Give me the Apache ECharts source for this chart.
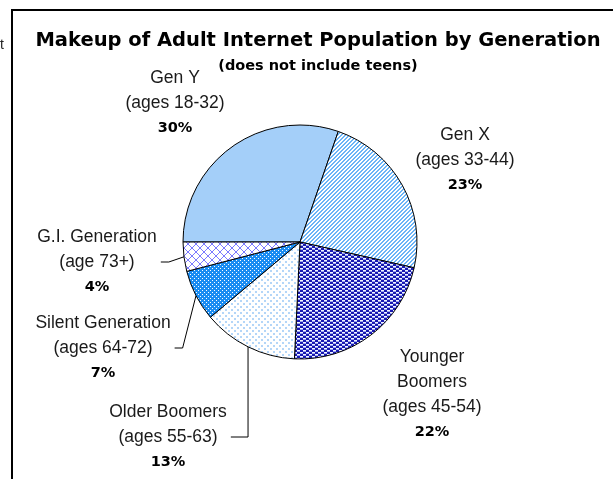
<!DOCTYPE html>
<html>
<head>
<meta charset="utf-8">
<script src="https://cdn.jsdelivr.net/npm/echarts@6/dist/echarts.min.js"></script>
<style>
html,body{margin:0;padding:0;background:#fff;}
#chart{width:613px;height:479px;}
</style>
</head>
<body>
<div id="chart"></div>
<script>
// ---- data ----
const categories = ['Gen Y', 'Gen X', 'Younger Boomers', 'Older Boomers', 'Silent Generation', 'G.I. Generation'];
const labelNames = ['Gen Y', 'Gen X', 'Younger\nBoomers', 'Older Boomers', 'Silent Generation', 'G.I. Generation'];
const ageRanges = ['(ages 18-32)', '(ages 33-44)', '(ages 45-54)', '(ages 55-63)', '(ages 64-72)', '(age 73+)'];
const values = [30, 23, 22, 13, 7, 4];

// ---- layout (label centres, leader style) ----
const labelCenters = [[175, 103], [465, 160], [432, 395], [168, 437], [103, 348], [97, 262]];
const leaderStyle = [null, null, null, 'vertical', 'elbow', 'elbow'];

// ---- patterns ----
function makePattern(w, h, draw) {
  const c = document.createElement('canvas');
  c.width = w; c.height = h;
  const ctx = c.getContext('2d');
  draw(ctx, w, h);
  return { image: c, repeat: 'repeat' };
}
function px(ctx, x, y, w, h) { ctx.fillRect(x, y, w || 1, h || 1); }

const fills = [
  '#a4cff9',
  makePattern(4, 4, (ctx) => {
    ctx.fillStyle = '#ffffff'; ctx.fillRect(0, 0, 4, 4);
    ctx.fillStyle = '#6cb4f7';
    for (let x = 0; x < 4; x++) {
      const y = (3 - x + 4) % 4;
      px(ctx, x, y); px(ctx, x, (y + 1) % 4);
    }
  }),
  makePattern(6, 4, (ctx) => {
    ctx.fillStyle = '#1818b0'; ctx.fillRect(0, 0, 6, 4);
    ctx.fillStyle = '#f4f7ff';
    px(ctx, 0, 0, 3, 1);
    px(ctx, 3, 2, 3, 1);
    ctx.fillStyle = '#9aa6f0';
    px(ctx, 0, 1, 3, 1);
    px(ctx, 3, 3, 3, 1);
  }),
  makePattern(6, 6, (ctx) => {
    ctx.fillStyle = '#ffffff'; ctx.fillRect(0, 0, 6, 6);
    ctx.fillStyle = '#b4d6f8';
    px(ctx, 0, 0, 2, 2);
    px(ctx, 3, 3, 2, 2);
  }),
  makePattern(4, 4, (ctx) => {
    ctx.fillStyle = '#1a8cf2'; ctx.fillRect(0, 0, 4, 4);
    ctx.fillStyle = '#ffffff';
    px(ctx, 0, 0); px(ctx, 2, 2);
  }),
  makePattern(8, 8, (ctx) => {
    ctx.fillStyle = '#ffffff'; ctx.fillRect(0, 0, 8, 8);
    ctx.fillStyle = '#7a7aff';
    for (let i = 0; i < 8; i++) { px(ctx, i, i); px(ctx, i, 7 - i); }
  })
];

const chart = echarts.init(document.getElementById('chart'), null, { renderer: 'canvas' });

const option = {
  animation: false,
  backgroundColor: '#ffffff',
  graphic: [
    { type: 'rect', shape: { x: 12, y: 10, width: 800, height: 600 }, style: { fill: 'none', stroke: '#000', lineWidth: 2 }, silent: true },
    { type: 'text', x: 0, y: 38, style: { text: 't', fontFamily: 'Liberation Sans', fontSize: 14, fill: '#222' } },
    { type: 'text', x: 318, y: 41, style: { text: 'Makeup of Adult Internet Population by Generation', fontFamily: 'DejaVu Sans', fontWeight: 'bold', fontSize: 19.5, fill: '#000', textAlign: 'center', textVerticalAlign: 'middle' } },
    { type: 'text', x: 318, y: 66, style: { text: '(does not include teens)', fontFamily: 'DejaVu Sans', fontWeight: 'bold', fontSize: 14.5, fill: '#000', textAlign: 'center', textVerticalAlign: 'middle' } }
  ],
  series: [{
    type: 'pie',
    center: [300, 242],
    radius: 117,
    startAngle: 180,
    clockwise: true,
    avoidLabelOverlap: false,
    itemStyle: { borderColor: '#000', borderWidth: 1 },
    label: {
      show: true,
      position: 'outside',
      formatter: (p) => '{n|' + labelNames[p.dataIndex] + '}\n{n|' + ageRanges[p.dataIndex] + '}\n{p|' + p.value + '%}',
      rich: {
        n: { fontFamily: 'Liberation Sans', fontSize: 17.5, lineHeight: 25, color: '#1a1a1a', align: 'center' },
        p: { fontFamily: 'DejaVu Sans', fontWeight: 'bold', fontSize: 14.5, lineHeight: 25, color: '#000', align: 'center' }
      }
    },
    labelLine: { show: true, lineStyle: { color: '#000', width: 1 }, length: 10, length2: 10 },
    labelLayout: function (params) {
      const i = params.dataIndex;
      const c = labelCenters[i];
      const w = params.labelRect.width;
      const res = { x: c[0], y: c[1], align: 'center', verticalAlign: 'middle' };
      if (leaderStyle[i] && params.labelLinePoints) {
        const edge = params.labelLinePoints[0];
        const p2 = [c[0] + w / 2 + 4, c[1]];
        const p1 = leaderStyle[i] === 'vertical' ? [edge[0], c[1]] : [p2[0] + 8, c[1]];
        res.labelLinePoints = [edge, p1, p2];
      }
      return res;
    },
    emphasis: { disabled: true },
    data: categories.map((name, i) => ({
      name: name,
      value: values[i],
      itemStyle: { color: fills[i] },
      labelLine: { show: !!leaderStyle[i] }
    }))
  }]
};
chart.setOption(option);
</script>
</body>
</html>
